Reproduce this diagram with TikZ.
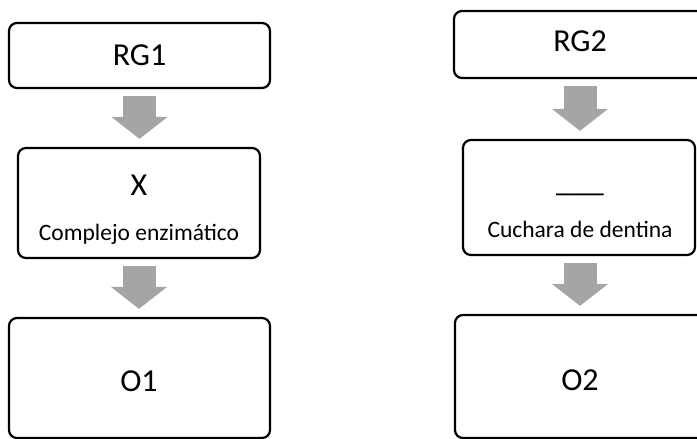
\documentclass[tikz,border=0pt]{standalone}
\usepackage{fontspec}
\setmainfont{Carlito}
\usetikzlibrary{arrows.meta}
\definecolor{arrowgray}{HTML}{A5A5A5}
\tikzset{
  box/.style={draw=black, line width=2.2pt, rounded corners=8pt, fill=white, inner sep=0pt},
  big/.style={font=\fontsize{32}{32}\selectfont, inner sep=0pt, anchor=base},
  small/.style={font=\fontsize{23.5}{24}\selectfont, inner sep=0pt, anchor=base},
  blockarrow/.style={draw=arrowgray, line width=33pt, line cap=butt,
    -{Triangle[width=55pt,length=22pt]}, shorten <=7pt, shorten >=8pt}
}
\begin{document}
\begin{tikzpicture}[x=1pt,y=-1pt]
\useasboundingbox (0,0) rectangle (697,439);
\clip (0,0) rectangle (697,439);
% left column
\node[box, minimum width=261pt, minimum height=65pt] (rg1) at (139.5,55.5) {};
\node[box, minimum width=242pt, minimum height=110pt] (x1) at (139,203) {};
\node[box, minimum width=261pt, minimum height=120pt] (o1) at (139.5,378) {};
\node[big] (rg1t) at (139.5,65) {RG1};
\node[big] (x1t) at (139,195) {X};
\node[small] (x1s) at (139,240) {Complejo enzimático};
\node[big] (o1t) at (139,391) {O1};
\draw[blockarrow] (rg1.south) -- (rg1.south |- x1.north);
\draw[blockarrow] (x1.south) -- (x1.south |- o1.north);
% right column (boxes run past the right edge)
\node[box, minimum width=266pt, minimum height=67pt] (rg2) at (587,44.5) {};
\node[box, minimum width=232pt, minimum height=115pt] (x2) at (579,197.5) {};
\node[box, minimum width=264pt, minimum height=123pt] (o2) at (587,376.5) {};
\node[big] (rg2t) at (580,52) {RG2};
\node[big] (x2t) at (580,191.5) {\_\_\_};
\node[small] (x2s) at (580,237) {Cuchara de dentina};
\node[big] (o2t) at (580,390) {O2};
\draw[blockarrow] (rg2t |- rg2.south) -- (rg2t |- x2.north);
\draw[blockarrow] (x2t |- x2.south) -- (x2t |- o2.north);
\end{tikzpicture}
\end{document}
